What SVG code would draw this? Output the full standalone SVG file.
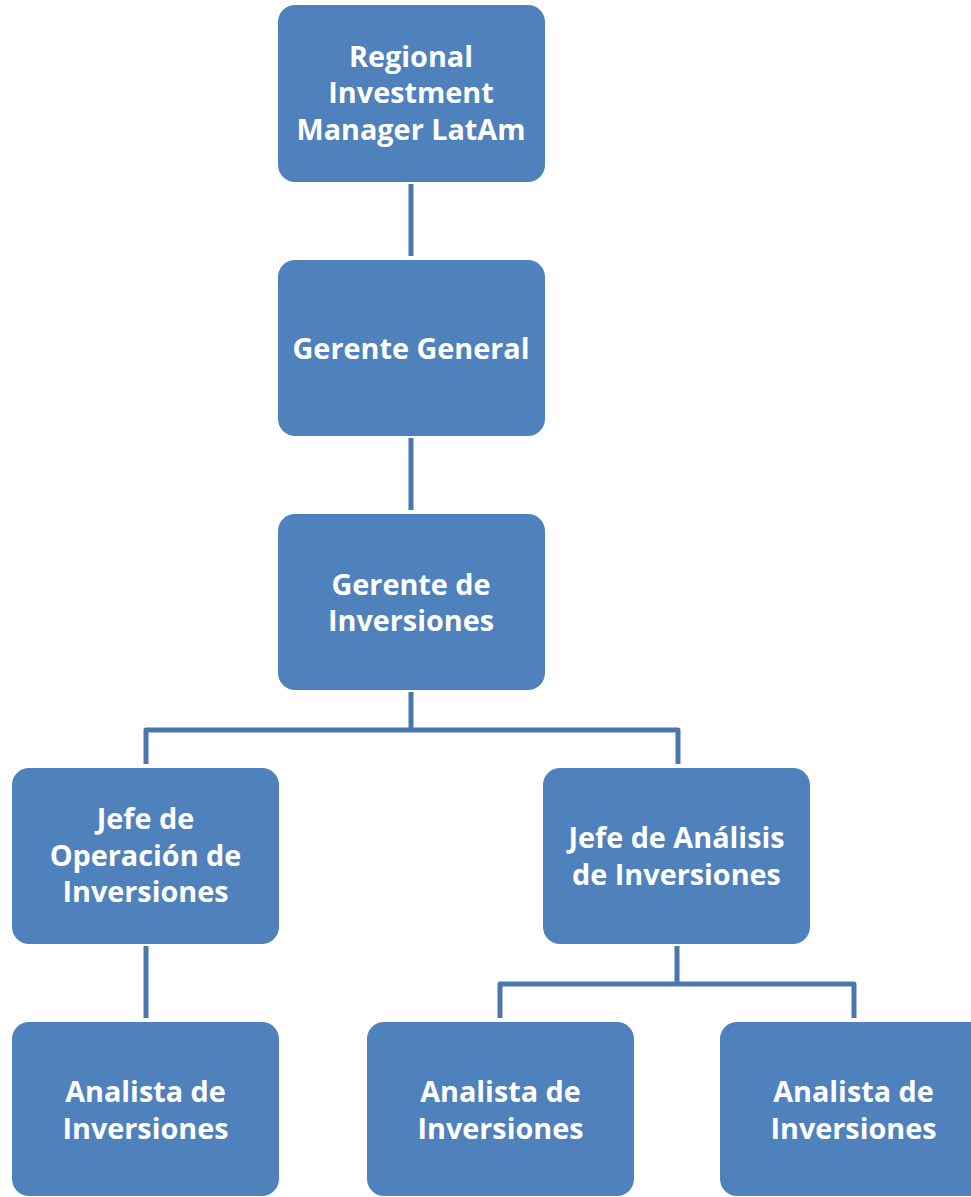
<svg xmlns="http://www.w3.org/2000/svg" width="971" height="1197" viewBox="0 0 971 1197">
  <style>
    .box { fill: #4f81bd; }
    .lbl { fill: #ffffff; font-family: "Open Sans", "Liberation Sans", sans-serif; font-weight: bold; font-size: 28.8px; text-anchor: middle; }
    .wire { fill: none; stroke: #4a77ad; stroke-width: 5; stroke-linejoin: round; }
  </style>
  <rect width="971" height="1197" fill="#ffffff"/>

  <g id="connectors">
    <path class="wire" d="M411 184 V256"/>
    <path class="wire" d="M411 438 V510"/>
    <path class="wire" d="M411 692 V730 M146 764 V730 H678 V764"/>
    <path class="wire" d="M146 946 V1018"/>
    <path class="wire" d="M677 946 V984 M500 1018 V984 H854 V1018"/>
  </g>

  <g id="regional-manager">
    <rect class="box" x="278" y="5" width="267" height="177" rx="17"/>
    <text class="lbl"><tspan x="411" y="67">Regional</tspan><tspan x="411" y="103">Investment</tspan><tspan x="411" y="140">Manager LatAm</tspan></text>
  </g>

  <g id="gerente-general">
    <rect class="box" x="278" y="260" width="267" height="176" rx="17"/>
    <text class="lbl" x="411" y="359">Gerente General</text>
  </g>

  <g id="gerente-inversiones">
    <rect class="box" x="278" y="514" width="267" height="176" rx="17"/>
    <text class="lbl"><tspan x="411" y="595">Gerente de</tspan><tspan x="411" y="631">Inversiones</tspan></text>
  </g>

  <g id="jefe-operacion">
    <rect class="box" x="12" y="768" width="267" height="176" rx="17"/>
    <text class="lbl"><tspan x="145.5" y="829">Jefe de</tspan><tspan x="145.5" y="866">Operación de</tspan><tspan x="145.5" y="902">Inversiones</tspan></text>
  </g>

  <g id="jefe-analisis">
    <rect class="box" x="543" y="768" width="267" height="176" rx="17"/>
    <text class="lbl"><tspan x="676.5" y="848">Jefe de Análisis</tspan><tspan x="676.5" y="885">de Inversiones</tspan></text>
  </g>

  <g id="analista-1">
    <rect class="box" x="12" y="1022" width="267" height="174" rx="17"/>
    <text class="lbl"><tspan x="145.5" y="1102">Analista de</tspan><tspan x="145.5" y="1139">Inversiones</tspan></text>
  </g>

  <g id="analista-2">
    <rect class="box" x="367" y="1022" width="267" height="174" rx="17"/>
    <text class="lbl"><tspan x="500.5" y="1102">Analista de</tspan><tspan x="500.5" y="1139">Inversiones</tspan></text>
  </g>

  <g id="analista-3">
    <rect class="box" x="720" y="1022" width="267" height="174" rx="17"/>
    <text class="lbl"><tspan x="853.5" y="1102">Analista de</tspan><tspan x="853.5" y="1139">Inversiones</tspan></text>
  </g>
</svg>
